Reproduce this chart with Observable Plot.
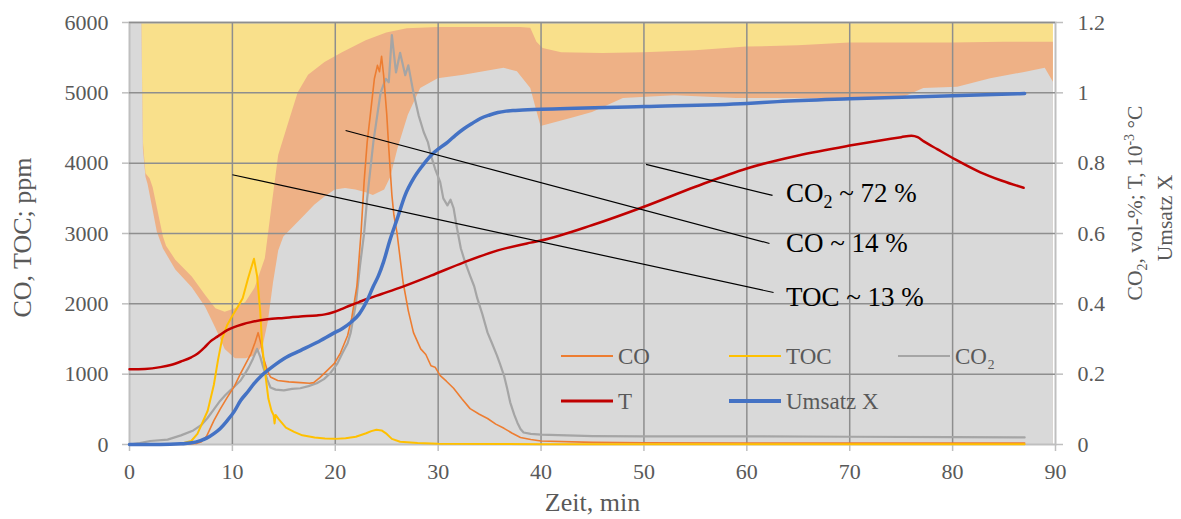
<!DOCTYPE html>
<html><head><meta charset="utf-8">
<script src="https://cdn.jsdelivr.net/npm/d3@7"></script>
<script src="https://cdn.jsdelivr.net/npm/@observablehq/plot@0.6"></script>
<style>
html,body{margin:0;padding:0;background:#fff;}
#chart svg{display:block;}
#chart svg, #chart svg text, #chart svg tspan{font-family: "Liberation Serif", "DejaVu Serif", serif !important;}
</style></head><body><div id="chart"></div>
<script>
// ---------- tick values ----------
const xTicks = [0, 10, 20, 30, 40, 50, 60, 70, 80, 90];
const yTicksLeft = [0, 1000, 2000, 3000, 4000, 5000, 6000];
const yTicksRight = [0, 0.2, 0.4, 0.6, 0.8, 1, 1.2];
const RIGHT_TO_LEFT = 5000; // 1.0 on the right axis = 5000 ppm on the left axis

// ---------- background shares (stacked, full height = 100 %) ----------
// top of CO2 share (grey), in left-axis units
const shareCO2Top = [[0,6000],[1.2,6000],[1.35,4200],[1.6,3800],[1.8,3700],[2.2,3400],[2.7,3020],[3.3,2780],[4.5,2480],[6.1,2230],[7.4,1950],[8.4,1650],[9.3,1350],[10.3,1220],[11.3,1220],[12.2,1260],[13,1400],[13.5,1750],[14,2300],[14.5,2750],[15,2950],[16,3100],[17,3250],[18,3400],[19,3520],[20,3620],[21,3640],[22,3620],[23,3580],[23.7,3540],[24.8,3620],[25.4,3800],[26.1,4210],[27.1,4680],[28.3,5060],[30,5200],[32.5,5250],[36.4,5350],[37.7,5300],[39,5060],[39.7,4680],[40,4520],[41,4560],[43,4640],[45,4720],[48,4920],[53,4960],[59,4920],[65,4920],[72,4900],[75,4920],[77.2,5060],[80.5,5080],[83.7,5200],[87,5290],[89,5350],[89.8,5150]];
// top of CO share (orange)
const shareCOTop = [[0,6000],[1.2,6000],[1.35,4300],[1.6,3850],[2.0,3780],[2.3,3650],[2.8,3300],[3.3,2950],[3.6,2820],[4.5,2620],[6.1,2380],[7.4,2120],[8.4,1930],[9.3,1880],[10.3,1930],[11.3,2020],[12.2,2220],[13.2,2640],[13.9,3440],[14.5,4110],[15.5,4580],[16.4,5000],[17.4,5250],[19,5430],[20.7,5570],[23,5740],[25,5850],[27,5910],[30,5930],[38,5930],[39,5920],[39.6,5720],[40.2,5630],[42,5570],[46,5560],[50,5570],[55,5600],[60,5650],[65,5670],[70,5710],[80,5710],[85,5720],[89.8,5720]];
// top of TOC share (yellow)
const shareTOCTop = [[0,6000],[89.8,6000]];

// ---------- measured series ----------
const seriesCO = [[0,0],[5,5],[6.5,15],[7,40],[7.5,120],[8.2,340],[8.8,500],[9.5,670],[10.2,830],[10.8,1010],[11.3,1150],[11.8,1290],[12.2,1450],[12.5,1590],[12.8,1420],[13.0,1240],[13.4,1050],[13.7,960],[14.4,910],[15.5,890],[16.6,880],[17.5,870],[17.9,880],[18.5,950],[19.2,1050],[19.9,1150],[20.5,1300],[21.2,1550],[21.6,1800],[22.1,2250],[22.5,3000],[22.8,3730],[23.1,4300],[23.4,4680],[23.8,5200],[24.1,5390],[24.3,5300],[24.5,5520],[24.7,5250],[25.0,4700],[25.2,4210],[25.5,3550],[25.7,3260],[26.0,3010],[26.3,2650],[26.6,2300],[27.1,1900],[27.6,1590],[28.3,1360],[28.8,1280],[29.3,1120],[29.7,1100],[30.2,980],[30.8,900],[31.5,800],[32.3,650],[33.1,510],[34,430],[34.8,370],[35.6,290],[36.4,230],[37.2,160],[38,100],[39,70],[40,50],[45,30],[50,25],[60,22],[70,20],[80,20],[87,20]];
const seriesTOC = [[0,0],[5,10],[6,50],[6.6,150],[7.6,480],[8.2,850],[8.6,1200],[9.0,1500],[9.5,1700],[10,1830],[10.5,1950],[11,2080],[11.5,2350],[11.8,2500],[12.1,2640],[12.4,2400],[12.7,1900],[12.9,1400],[13.2,1000],[13.5,650],[13.8,480],[14.0,420],[14.1,300],[14.2,420],[14.5,360],[15.2,240],[16,180],[16.8,130],[18,100],[19,85],[20,80],[21,90],[22,110],[23,160],[23.5,190],[24,210],[24.5,200],[25,150],[25.5,80],[26.3,40],[28,20],[30,10],[40,5],[87,5]];
const seriesCO2 = [[0,0],[1,20],[2,50],[3.7,70],[5,130],[6.2,200],[7,280],[7.6,380],[8.2,500],[8.8,620],[9.3,700],[9.8,770],[10.3,840],[10.8,910],[11.2,1000],[11.6,1100],[12.0,1220],[12.4,1360],[12.7,1250],[13.0,1100],[13.4,920],[13.7,810],[14.2,780],[15,770],[15.8,790],[16.6,800],[17.4,830],[18.2,870],[18.9,930],[19.5,1010],[20.2,1150],[20.7,1300],[21.2,1440],[21.5,1590],[22.0,2000],[22.4,2540],[22.8,3000],[23.1,3500],[23.4,3900],[23.7,4300],[24.1,4700],[24.4,5000],[24.9,5200],[25.2,5150],[25.5,5820],[25.9,5290],[26.3,5570],[26.8,5250],[27.1,5390],[27.6,5000],[28.1,4680],[28.6,4440],[29.0,4300],[29.3,4110],[29.7,3920],[30.2,3730],[30.5,3500],[30.9,3400],[31.2,3480],[31.5,3360],[31.8,3100],[32.2,2790],[32.6,2600],[33.1,2400],[33.5,2250],[33.8,2080],[34.3,1850],[34.8,1590],[35.2,1450],[35.7,1270],[36.0,1150],[36.4,980],[36.7,800],[37.0,600],[37.4,420],[37.7,310],[38.0,220],[38.3,170],[39,150],[40,140],[45,120],[50,115],[60,115],[70,110],[80,105],[87,100]];
// right-axis units
const seriesT = [[0,0.214],[1.5,0.215],[3,0.22],[4,0.226],[5,0.236],[6,0.248],[6.6,0.258],[7.3,0.276],[7.9,0.294],[8.4,0.304],[8.8,0.312],[9.5,0.325],[10.1,0.333],[11,0.342],[11.8,0.348],[13.4,0.356],[15,0.36],[16.6,0.364],[18.2,0.367],[19,0.37],[19.8,0.376],[20.6,0.385],[21.5,0.396],[22.3,0.405],[23.1,0.414],[24.5,0.428],[26.3,0.446],[29.3,0.48],[32.5,0.518],[35.8,0.552],[39,0.574],[40,0.58],[45,0.624],[50,0.676],[55,0.733],[60,0.785],[65,0.822],[70,0.85],[75,0.874],[76,0.878],[76.6,0.874],[77.2,0.862],[78.5,0.84],[80.3,0.81],[82.7,0.774],[84.8,0.75],[86.9,0.73]];
const seriesX = [[0,0],[3,0],[5,0.002],[5.9,0.004],[6.9,0.011],[7.5,0.018],[8.2,0.031],[8.8,0.045],[9.5,0.068],[10.2,0.095],[10.8,0.125],[11.5,0.15],[12.1,0.173],[12.8,0.195],[13.4,0.21],[14.2,0.228],[15,0.244],[16.6,0.267],[18.2,0.29],[19.8,0.316],[20.7,0.33],[21.5,0.347],[22.3,0.37],[23.1,0.41],[23.7,0.45],[24.2,0.48],[24.7,0.52],[25.3,0.58],[26,0.64],[26.8,0.71],[27.6,0.756],[28.4,0.79],[29.3,0.822],[30.1,0.842],[30.9,0.859],[31.7,0.88],[32.5,0.898],[33.3,0.913],[34.1,0.927],[35,0.937],[35.8,0.944],[36.6,0.948],[37.5,0.95],[40,0.953],[50,0.961],[60,0.97],[63,0.975],[70,0.983],[80,0.992],[87,0.998]];

// ---------- annotations (data units, left axis) ----------
const annoLabels = ["CO2 ~ 72 %", "CO ~ 14 %", "TOC ~ 13 %"];
const annoLabelX = [63.8, 63.8, 63.8];
const annoLabelY = [3570, 2855, 2097];
const annoLineStart = [[50.2, 3982], [21.0, 4465], [10.0, 3835]];
const annoLineEnd = [[62.5, 3541], [62.2, 2858], [62.6, 2161]];

const legendNames = ["CO", "TOC", "CO₂", "T", "Umsatz X"];

// ---------- styling ----------
const FONT = "Liberation Serif, DejaVu Serif, serif";
const C = {co: "#ED7D31", toc: "#FFC000", co2: "#A5A5A5", t: "#C00000", x: "#4472C4",
  shareCO2: "#D9D9D9", shareCO: "#EEB186", shareTOC: "#F9E08B", grid: "#8E8E8E", axis: "#BFBFBF", text: "#595959"};

const px = d => d[0], py = d => d[1], pyR = d => d[1] * RIGHT_TO_LEFT;
const annoLines = annoLineStart.map((s, i) => ({x1: s[0], y1: s[1], x2: annoLineEnd[i][0], y2: annoLineEnd[i][1]}));
const annoText = annoLabels.map((t, i) => ({t, x: annoLabelX[i], y: annoLabelY[i]}));

const svg = Plot.plot({
  width: 1181, height: 519,
  marginLeft: 129, marginRight: 126, marginTop: 22, marginBottom: 75,
  x: {domain: [0, 90]},
  y: {domain: [0, 6000]},
  style: {fontFamily: FONT, background: "white", overflow: "visible"},
  marks: [
    Plot.areaY(shareTOCTop, {x: px, y: py, fill: C.shareTOC, curve: "linear"}),
    Plot.areaY(shareCOTop, {x: px, y: py, fill: C.shareCO, curve: "linear"}),
    Plot.areaY(shareCO2Top, {x: px, y: py, fill: C.shareCO2, curve: "linear"}),
    Plot.frame({stroke: C.axis, strokeWidth: 2}),
    Plot.ruleX(xTicks.slice(1, -1), {stroke: C.grid, strokeWidth: 1.5}),
    Plot.ruleY(yTicksLeft.slice(1), {stroke: C.grid, strokeWidth: 1.5}),
    Plot.axisX({ticks: xTicks, tickSize: 7, tickPadding: 12, tickFormat: d => String(d), fontSize: 22, stroke: C.axis, strokeWidth: 1.5, fill: C.text, label: null}),
    Plot.axisY({anchor: "left", ticks: yTicksLeft, tickSize: 7, tickPadding: 14, tickFormat: d => String(d), fontSize: 22, stroke: C.axis, strokeWidth: 1.5, fill: C.text, label: null}),
    Plot.axisY({anchor: "right", ticks: yTicksRight.map(v => v * RIGHT_TO_LEFT), tickSize: 7, tickPadding: 15, tickFormat: d => String(Math.round(d / 500) / 10), fontSize: 22, stroke: C.axis, strokeWidth: 1.5, fill: C.text, label: null}),
    Plot.line(seriesCO2, {x: px, y: py, stroke: C.co2, strokeWidth: 2.2}),
    Plot.line(seriesCO, {x: px, y: py, stroke: C.co, strokeWidth: 1.6}),
    Plot.line(seriesTOC, {x: px, y: py, stroke: C.toc, strokeWidth: 2}),
    Plot.line(seriesT, {x: px, y: pyR, stroke: C.t, strokeWidth: 2.5, curve: "monotone-x"}),
    Plot.line(seriesX, {x: px, y: pyR, stroke: C.x, strokeWidth: 3.5, curve: "monotone-x"}),
    Plot.link(annoLines, {x1: "x1", y1: "y1", x2: "x2", y2: "y2", stroke: "black", strokeWidth: 1.2}),
    Plot.text(annoText, {x: "x", y: "y", text: "t", textAnchor: "start", lineAnchor: "middle", fontSize: 27, fill: "black"}),
    Plot.text(["Zeit, min"], {frameAnchor: "bottom", textAnchor: "middle", lineAnchor: "middle", dy: 58, fontSize: 26, fill: C.text}),
    Plot.text(["CO, TOC; ppm"], {frameAnchor: "left", textAnchor: "middle", lineAnchor: "middle", rotate: -90, dx: -107, dy: 4, fontSize: 26, fill: C.text})
  ]
});

// rich text: subscript in the CO2 annotation
d3.select(svg).selectAll("text").each(function () {
  const el = d3.select(this);
  const t = el.text();
  if (t === annoLabels[0]) {
    el.text(null);
    el.append("tspan").text("CO");
    el.append("tspan").attr("font-size", 18).attr("dy", 6).text("2");
    el.append("tspan").attr("dy", -6).text(t.slice(3));
  }
});

// right axis title (two lines, rotated)
const rt = d3.select(svg).append("g").attr("font-family", FONT).attr("fill", C.text).attr("font-size", 21.5).attr("text-anchor", "middle");
const t1 = rt.append("text").attr("transform", "translate(1135,203) rotate(-90)").attr("dy", "0.33em");
t1.append("tspan").text("CO");
t1.append("tspan").attr("font-size", 14).attr("dy", 5).text("2");
t1.append("tspan").attr("dy", -5).text(", vol-%; T, 10");
t1.append("tspan").attr("font-size", 14).attr("dy", -8).text("-3");
t1.append("tspan").attr("dy", 8).text(" °C");
rt.append("text").attr("transform", "translate(1165,218) rotate(-90)").attr("dy", "0.33em").text("Umsatz X");

// legend (inside plot area)
const legendColors = [C.co, C.toc, C.co2, C.t, C.x];
const legendWidths = [2, 2, 2, 3, 4];
const legendCols = [561, 729, 898];
const legendRows = [356, 401];
const lg = d3.select(svg).append("g").attr("font-family", FONT).attr("font-size", 23).attr("fill", C.text).attr("text-anchor", "start");
legendNames.forEach((name, i) => {
  const cx = legendCols[i % 3], cy = legendRows[Math.floor(i / 3)];
  lg.append("line").attr("x1", cx).attr("x2", cx + 52).attr("y1", cy).attr("y2", cy)
    .attr("stroke", legendColors[i]).attr("stroke-width", legendWidths[i]);
  lg.append("text").attr("x", cx + 57).attr("y", cy).attr("dy", "0.34em").text(name);
});

document.getElementById("chart").appendChild(svg);
</script>
</body></html>
